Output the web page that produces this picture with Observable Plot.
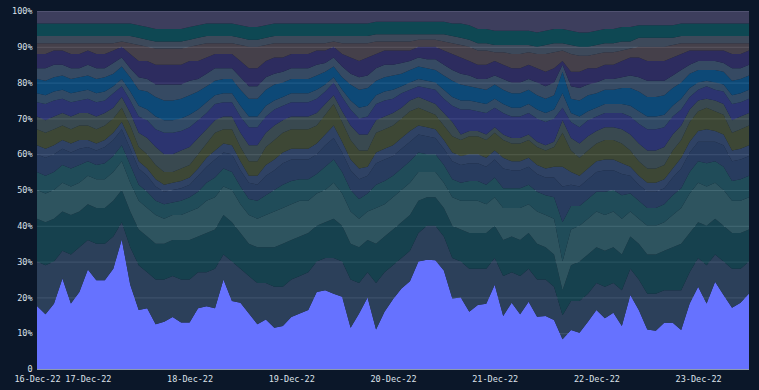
<!DOCTYPE html>
<html><head><meta charset="utf-8">
<script src="https://cdn.jsdelivr.net/npm/d3@7"></script>
<script src="https://cdn.jsdelivr.net/npm/@observablehq/plot@0.6"></script>
<style>
html,body{margin:0;padding:0;background:#0b1729;}
#chart{width:759px;height:390px;}
</style></head><body><div id="chart"></div>
<script>
// Time axis: one reading every 2 hours, 16-Dec-22 12:00 to 23-Dec-22 12:00
const startTime = Date.UTC(2022, 11, 16, 12);
const stepHours = 2;
const tickDates = [Date.UTC(2022,11,16,12), Date.UTC(2022,11,17), Date.UTC(2022,11,18), Date.UTC(2022,11,19), Date.UTC(2022,11,20), Date.UTC(2022,11,21), Date.UTC(2022,11,22), Date.UTC(2022,11,23)];
const tickLabels = ["16-Dec-22","17-Dec-22","18-Dec-22","19-Dec-22","20-Dec-22","21-Dec-22","22-Dec-22","23-Dec-22"];
const yTickValues = [0,0.1,0.2,0.3,0.4,0.5,0.6,0.7,0.8,0.9,1];
const yTickLabels = ["0","10%","20%","30%","40%","50%","60%","70%","80%","90%","100%"];

// Cumulative share (%) read at the top edge of each band, bottom band first
const top01 = [17.6,15.3,18.2,25.3,18.3,21.5,27.8,24.8,24.8,28, 36.2,23.5,16.5,17,12.5,13.2,14.5,13,13,17, 17.5,17,25,19,18.5,15.5,12.5,13.8,11.5,12, 14.5,15.5,16.5,21.5,22,21,20.2,11.5,15.5,20, 11,16,19.5,22.5,24.5,30,30.5,30.4,27.5,19.7, 20,16,17.9,18.2,23.5,14.8,18.5,15.3,18.8,14.6, 14.8,13.7,8.3,10.9,10.1,13.2,16.5,14.2,15.7,12, 20.7,16.5,11,10.7,12.9,12.9,10.9,18.3,23,18.3, 24.4,20.7,17.1,18.5,21.1];
const top02 = [30,29,30,33,32,34,36,35,35,37, 41,34,29,27,25,25,26,25,25,27, 27,28,32,30,28,26,24,24,23,23, 25,26,27,30,31,31,30,25,24,27, 24,27,29,31,33,38,40,40,37,31, 30,28,28,28,31,26,27,26,28,25, 25,23,15,19,19,21,24,23,24,22, 28,25,21,21,22,22,22,27,31,29, 32,30,28,28,30];
const top03 = [42,41,42,44,43,44,46,45,45,47, 50,44,39,37,35,35,36,36,36,37, 38,39,43,41,38,35,34,34,34,35, 36,37,38,40,41,42,40,35,34,36, 35,37,39,41,43,47,48,48,45,40, 39,38,38,38,40,36,37,36,38,35, 34,32,22,29,30,32,34,33,34,32, 37,35,32,32,33,34,35,38,41,40, 42,40,38,38,39];
const top04 = [50,49,50,52,51,52,54,53,53,55, 58,52,47,45,43,42,43,43,44,45, 47,48,51,50,46,43,42,43,44,45, 46,47,47,49,50,52,49,44,42,44, 45,46,48,50,52,55,55,55,52,48, 47,47,47,46,48,45,45,45,46,44, 43,42,30,39,40,42,44,43,44,42, 44,42,40,40,41,43,45,49,52,51, 52,50,47,47,48];
const top05 = [55,54,55,57,56,57,58,57,57.5,59.5, 62.5,57,51.5,49.5,47,46,46.5,47,48,49.5, 52,53.5,56,55,51,47.5,47,48.5,50,51.5, 52.5,53,53,54.5,56.5,58.5,55,50,47.5,49, 51.5,52.5,54,56,58,60.5,60,60,57,53, 52,52.5,52.5,51.5,53.5,50.5,50.5,50.5,51.5,49.5, 48.5,48,41,45.5,45.5,47.5,49.5,49.5,50,48.5, 49,47,45,45,46,48.5,50.5,55,58,57.5, 58,56.5,52.5,53,54];
const top06 = [60,59,60,61.5,60.5,61.5,62,61,62,64, 67,61.5,56,54,51,49.5,50,50.5,51.5,54, 56.5,58.5,60.5,60,55.5,52,51.5,54,55.5,57.5, 58.5,58.5,58.5,60,62.5,64.5,60.5,55.5,53,54, 57.5,58.5,59.5,61.5,63.5,65.5,65,64.5,61.5,58, 57,57.5,57.5,56.5,58.5,56,55.5,55.5,56.5,54.5, 53.5,53.5,51,51.5,51,53,55,55.5,55.5,54.5, 54,51.5,49.5,49.5,50.5,53.5,56,60.5,63.5,63.5, 63.5,62.5,58,58.5,59.5];
const top07 = [62.5,61.5,62.5,64,63,64,64,63,64,66, 69,64,58,56,53,51.5,52,52.5,53.5,56, 59,61,63,62.5,58,54,54,57,58.5,60.5, 61.5,61.5,61.5,63,65.5,68,63.5,58.5,56,56.5, 60.5,61.5,62.5,64.5,66.5,68,67.5,67,64,60.5, 59.5,60,60,59,61,59,58,58,59,57, 56,56.5,56.5,55,54,56,58,58.5,58.5,57.5, 56.5,54,52,52,53,56,59,63.5,66.5,67, 66.5,65.5,61,61.5,62.5];
const top08 = [67,66,67,68,67,68,68,67,68,70, 73,68,62,60,57,55,55,56,57,60, 63,66,67,67,62,58,58,62,64,66, 67,67,67,68,71,74,69,64,61,61, 66,67,68,70,72,73,72,71,68,65, 64,65,65,64,66,64,63,63,64,62, 61,62,66,61,59,61,63,64,64,63, 61,58,56,56,57,61,64,69,72,73, 72,71,66,67,68];
const top09 = [70.5,69.5,70.5,71.5,70.5,71.5,71.5,70.5,71.5,73, 76,71.5,66,64.5,62,60,60,61,62,64.5, 67,69.5,70.5,70.5,66,62.5,62.5,66,68,69.5, 70.5,70.5,70.5,71.5,74,76.5,72,68,65.5,65.5, 69.5,70.5,71.5,73,75,76,75,74,71.5,69, 65.5,66.5,66.5,65.5,67.5,65.5,64.5,64.5,65.5,63.5, 62.5,63.5,69.5,64.5,63,65,66.5,67.5,67.5,67, 65.5,63,61,61,62,65.5,68,72.5,75,75.5, 75,74,69.5,70.5,71.5];
const top10 = [74.5,74,75,75.5,74.5,75,75.5,74.5,75,77, 79,75,70.5,69.5,67,66,66,66.5,67.5,69.5, 71.5,74,74.5,74.5,70.5,67.5,67.5,70.5,72.5,73.5, 74.5,74.5,74.5,75.5,77.5,80,76,72.5,70,70.5, 74,75,75.5,77,78,79,78.5,78,75.5,73.5, 72.5,72.5,72,71.5,73,71.5,70.5,70.5,71.5,70, 69,70,73,69,67.5,69.5,70.5,71.5,71.5,71.5, 70.5,68.5,67,67,67.5,70.5,72.5,76,78,79, 78,77.5,74,74.5,75.5];
const top11 = [77,76.5,77.5,78,77,77.5,78,77,77.5,79, 81,77.5,73.5,72.5,70.5,69.5,69.5,70,71,72.5, 74.5,76.5,77,77,73.5,70.5,70.5,73.5,75,76, 77,77,77,78,79.5,81.5,78,75,73,73.5, 76.5,77.5,78,79,80,81,80.5,80,78,76, 75,75,74.5,74,75.5,74,73,73,74,72.5, 71.5,72.5,77,71.5,70.5,72,73,74,74,74, 73.5,72,70.5,70.5,71,73.5,75.5,78.5,80,80.5, 80,79.5,76.5,77,78];
const top12 = [81,80.5,81.5,82,81,81.5,82,81,81.5,82.5, 84.5,81.5,78,77.5,76,75,75,75.5,76.5,77.5, 79,80.5,81,81,78,75.5,75.5,78,79.5,80, 81,81,81,82,83,84.5,81.5,79.5,78,78.5, 80.5,81.5,82,82.5,83.5,84.5,84,83.5,82,80.5, 79.5,79,78.5,78,79.5,78,77,77,78,76.5, 75.5,76.5,83,75.5,75,76.5,77,78,78,78.5, 78.5,77.5,76,76,76.5,78.5,80,82.5,83.5,83.5, 83.5,83,80.5,81,82];
const top13 = [84,84,85,85,84,84,85,84,84,85.5, 87,84,81.5,81,79.5,79.5,79.5,79.5,80.5,81, 82.5,84,84,84,81.5,79,79,81.5,82.5,83, 84,84,84,85,85.5,87,84.5,82.5,81.5,82, 84,85,85,85.5,86,87,86.5,86.5,85,83.5, 82.5,82,81,81,82,81,80,80,81,80, 79,80,85,79,78.5,79.5,80,81,81,81.5, 82,81.5,80.5,80.5,80.5,82,83.5,85,86,86, 86,85.5,84,84,85];
const top14 = [88,88,89,89,88,88,89,88,88,89, 90,88,86,86,85,85,85,85,86,86, 87,88,88,88,86,84,84,86,87,87, 88,88,88,89,89,90,88,87,86,87, 88,89,89,89,89,90,90,90,89,88, 87,86,85,85,86,85,84,84,85,84, 83,84,86,83,83,84,84,85,85,86, 87,87,86,86,86,87,88,89,89,89, 89,89,88,88,89];
const top15 = [91,91,91,91,91,91,91,91,91,91, 91.5,91,90.5,90,89.5,89.5,89.5,89.5,90,90.5, 91,91,91,91,90.5,90,90,90.5,91,91, 91,91,91,91,91,91.5,91,91,91,91, 91.5,91.5,91.5,91.5,91.5,92,92,92,91.5,91, 90.5,90,89,89,88.5,88.5,88,88,88.5,88, 88,88.5,89,88,87.5,87.5,88,88.5,88.5,89, 89.5,90,90,90,90,90.5,91,91,91,91, 91,91,91,91,91];
const top16 = [93,93,93,93,93,93,93,93,93,93, 93,93,92.5,92,91.5,91.5,91.5,91.5,92,92.5, 93,93,93,93,92.5,92,92,92.5,93,93, 93,93,93,93,93,93,93,93,93,93, 93.5,93.5,93.5,93.5,93.5,93.5,93.5,93.5,93.5,93, 92.5,92,91,91,90.5,90.5,90.5,90.5,90.5,90, 90.5,91,91,90.5,90,90,90.5,91,91,91.5, 91.5,92.5,92.5,92.5,92.5,92.5,93,93,93,93, 93,93,93,93,93];
const top17 = [96.5,96.5,96.5,96.5,96.5,96.5,96.5,96.5,96.5,96.5, 96.5,96.5,96,95.5,95,95,95,95,95.5,96, 96.5,96.5,96.5,96.5,96,95.5,95.5,96,96.5,96.5, 96.5,96.5,96.5,96.5,96.5,96.5,96.5,96.5,96.5,96.5, 97,97,97,97,97,97,97,97,97,96.5, 96.5,96,95,95,94.5,94.5,94.5,94.5,94.5,94, 94.5,95,95,94.5,94,94,94.5,95,95,95.5, 95.5,96,96,96,96,96,96.5,96.5,96.5,96.5, 96.5,96.5,96.5,96.5,96.5];
const top18 = top17.map(() => 100);

const bandTops = [top01,top02,top03,top04,top05,top06,top07,top08,top09,top10,top11,top12,top13,top14,top15,top16,top17,top18];
const bandNames = ["s01","s02","s03","s04","s05","s06","s07","s08","s09","s10","s11","s12","s13","s14","s15","s16","s17","s18"];
const bandColors = ["#6672ff","#334863","#194955","#355f68","#245662","#2e4369","#364a6e","#465037","#425257","#323a7c","#385470","#0e5285","#3e536d","#343068","#504850","#465263","#0f515a","#474566"];

// Share of each band at each time = its top edge minus the one below
const rows = [];
bandTops.forEach((tops, k) => {
  tops.forEach((v, i) => {
    const below = k === 0 ? 0 : bandTops[k - 1][i];
    rows.push({band: bandNames[k], t: new Date(startTime + i * stepHours * 3600e3), share: Math.max(0, v - below), op: k === 0 ? 1 : 0.85});
  });
});

const chart = Plot.plot({
  width: 759, height: 390,
  marginLeft: 37, marginRight: 10, marginTop: 11, marginBottom: 21,
  style: {background: "#0b1729", color: "#d3d9e3", fontFamily: "'DejaVu Sans Mono', monospace", fontSize: "8.5px"},
  x: {type: "utc", domain: [new Date(startTime), new Date(startTime + 84 * stepHours * 3600e3)]},
  y: {domain: [0, 1]},
  color: {domain: bandNames, range: bandColors},
  marks: [
    Plot.gridY(yTickValues, {stroke: "#8e9bad", strokeOpacity: 1, strokeWidth: 1}),
    Plot.areaY(rows, Plot.stackY({offset: "normalize"}, {x: "t", y: "share", z: "band", fill: "band", fillOpacity: "op"})),
    Plot.axisY(yTickValues, {tickSize: 0, tickPadding: 5, tickFormat: d => yTickLabels[yTickValues.indexOf(d)], label: null, fill: "#dde2ea"}),
    Plot.axisX(tickDates.map(d => new Date(d)), {tickSize: 0, tickPadding: 6, tickFormat: d => tickLabels[tickDates.indexOf(+d)], label: null, fill: "#dde2ea"})
  ]
});
document.getElementById("chart").appendChild(chart);
</script></body></html>
